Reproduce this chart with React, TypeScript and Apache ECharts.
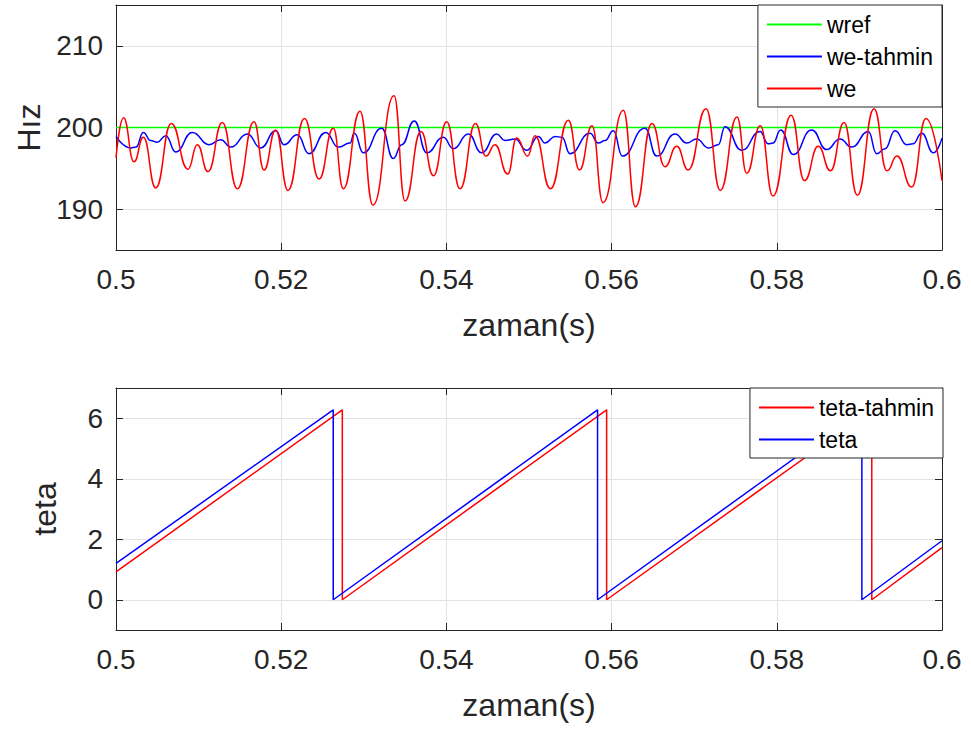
import React, { useEffect, useRef } from "react";
import * as echarts from "echarts";

// ---- top subplot data ----
const wrefTime = [0.5, 0.6];
const wrefValue = [200, 200];

const weTime = [
  0.5, 0.50091, 0.50218, 0.50331, 0.50481, 0.50669, 0.50872, 0.50984, 0.51114, 0.51287,
  0.51469, 0.51671, 0.51792, 0.51933, 0.52082, 0.52282, 0.52458, 0.52631, 0.52752, 0.52954,
  0.53111, 0.53366, 0.53499, 0.53692, 0.53844, 0.54003, 0.54165, 0.54352, 0.54479, 0.54588,
  0.54742, 0.54851, 0.54984, 0.55073, 0.5526, 0.55476, 0.55611, 0.55763, 0.55896, 0.56142,
  0.56289, 0.56489, 0.56646, 0.56788, 0.56928, 0.57143, 0.57316, 0.57518, 0.57636, 0.578,
  0.57954, 0.58174, 0.58335, 0.58502, 0.5865, 0.58814, 0.58975, 0.59177, 0.59334, 0.59455,
  0.59633, 0.59806, 0.6,
];
const weValue = [
  196.3, 201.2, 195.8, 198.8, 192.6, 200.5, 194.9, 197.9, 194.6, 200.6,
  192.5, 200.7, 194.8, 199.7, 192.3, 201.1, 193.7, 199.9, 192.5, 202.0,
  190.5, 203.9, 191.0, 199.5, 194.1, 200.7, 192.5, 200.5, 196.5, 197.9,
  194.3, 198.7, 196.5, 199.0, 192.5, 200.9, 194.8, 200.2, 190.8, 202.1,
  190.3, 200.5, 195.2, 197.7, 194.8, 202.3, 192.3, 201.3, 194.4, 200.2,
  191.6, 201.5, 193.5, 197.7, 194.7, 200.6, 191.7, 202.3, 194.7, 196.5,
  192.7, 201.1, 193.5,
];

const estTime = [
  0.5, 0.50178, 0.50242, 0.50331, 0.5042, 0.505, 0.50602, 0.50723, 0.50924, 0.51126,
  0.51268, 0.51389, 0.5159, 0.51752, 0.51933, 0.52034, 0.52195, 0.52337, 0.52539, 0.52691,
  0.52833, 0.52885, 0.52994, 0.53217, 0.53357, 0.53459, 0.53611, 0.53762, 0.53962, 0.54084,
  0.54265, 0.54427, 0.54609, 0.54709, 0.54831, 0.54972, 0.55113, 0.55194, 0.55315, 0.554,
  0.55496, 0.55738, 0.55839, 0.5592, 0.56021, 0.5613, 0.56404, 0.56546, 0.56768, 0.56909,
  0.5703, 0.57171, 0.57292, 0.57373, 0.57575, 0.57797, 0.57897, 0.57954, 0.58047, 0.582,
  0.58422, 0.58604, 0.58765, 0.58907, 0.59108, 0.59209, 0.5931, 0.59431, 0.59573, 0.59649,
  0.59754, 0.59895, 0.6,
];
const estValue = [
  198.9, 197.5, 197.6, 199.4, 198.4, 198.2, 199.0, 197.0, 199.4, 197.9,
  198.5, 197.6, 199.2, 197.5, 199.6, 197.9, 199.1, 196.8, 199.4, 197.6,
  198.1, 199.3, 196.9, 199.9, 196.2, 197.9, 200.8, 196.9, 198.8, 197.4,
  199.2, 196.9, 199.2, 198.4, 198.6, 197.2, 198.9, 198.1, 198.9, 198.8,
  196.8, 199.3, 198.1, 198.4, 199.6, 196.5, 199.9, 196.5, 199.2, 198.1,
  198.6, 197.5, 197.9, 200.1, 197.2, 199.5, 198.0, 198.1, 199.7, 196.7,
  199.7, 197.3, 198.6, 197.6, 199.5, 196.8, 197.4, 199.6, 197.9, 198.0,
  199.3, 196.9, 198.7,
];

// ---- bottom subplot data ----
const tetaEstTime = [0.5, 0.5274, 0.5274, 0.5594, 0.5594, 0.5915, 0.5915, 0.6];
const tetaEstValue = [0.92, 6.28, 0, 6.28, 0, 6.28, 0, 1.72];
const tetaTime = [0.5, 0.5263, 0.5263, 0.5583, 0.5583, 0.5903, 0.5903, 0.6];
const tetaValue = [1.2, 6.28, 0, 6.28, 0, 6.28, 0, 1.95];

const xMin = 0.5;
const xMax = 0.6;
const xStep = 0.02;
const topY = [185, 215];
const topYStep = 10;
const botY = [-1, 7];
const botYStep = 2;

const FONT = "'Liberation Sans', Arial, Helvetica, sans-serif";
const AX = "#262626";
const GRID = "#e3e3e3";

const pairs = (t: number[], v: number[]) => t.map((x, i) => [x, v[i]]);

function xAxisDef(gridIndex: number, mirror: boolean): any {
  return {
    type: "value",
    gridIndex,
    position: mirror ? "top" : "bottom",
    min: xMin,
    max: xMax,
    interval: xStep,
    name: mirror ? "" : "zaman(s)",
    nameLocation: "middle",
    nameGap: 59,
    nameTextStyle: { fontSize: 32, color: AX, fontFamily: FONT },
    axisLine: { show: true, onZero: false, lineStyle: { color: AX, width: 1 } },
    axisTick: { show: true, inside: true, length: 7, lineStyle: { color: AX } },
    axisLabel: {
      show: !mirror,
      fontSize: 28,
      color: AX,
      fontFamily: FONT,
      margin: 15,
      formatter: (v: number) => String(Math.round(v * 100) / 100),
    },
    splitLine: { show: !mirror, lineStyle: { color: GRID, width: 1 } },
  };
}

function yAxisDef(gridIndex: number, mirror: boolean, ext: number[], step: number, name: string, gap: number): any {
  return {
    type: "value",
    gridIndex,
    position: mirror ? "right" : "left",
    min: ext[0],
    max: ext[1],
    splitNumber: Math.round((ext[1] - ext[0]) / step),
    name: mirror ? "" : name,
    nameLocation: "middle",
    nameGap: gap,
    nameTextStyle: { fontSize: 32, color: AX, fontFamily: FONT },
    axisLine: { show: true, onZero: false, lineStyle: { color: AX, width: 1 } },
    axisTick: { show: true, inside: true, length: 7, lineStyle: { color: AX } },
    axisLabel: {
      show: !mirror,
      fontSize: 28,
      color: AX,
      fontFamily: FONT,
      margin: 13,
      formatter: (v: number) => (Math.abs(v % step) < 1e-9 ? String(v) : ""),
    },
    splitLine: { show: !mirror, lineStyle: { color: GRID, width: 1 } },
  };
}

const legendBase = {
  orient: "vertical",
  backgroundColor: "#ffffff",
  borderColor: AX,
  borderWidth: 1,
  borderRadius: 0,
  padding: [8, 9, 7, 9],
  itemGap: 9,
  itemWidth: 55,
  itemHeight: 2,
  icon: "rect",
  selectedMode: false,
  textStyle: { fontSize: 23, color: "#000", fontFamily: FONT },
};

export default function App() {
  const ref = useRef<HTMLDivElement>(null);

  useEffect(() => {
    if (!ref.current) return;
    const chart = echarts.init(ref.current, undefined, { renderer: "svg" });
    const line = (name: string, color: string, data: number[][], xi: number, yi: number, smooth = false) => ({
      name,
      type: "line",
      xAxisIndex: xi,
      yAxisIndex: yi,
      data,
      showSymbol: false,
      symbol: "none",
      smooth: smooth ? 0.5 : false,
      smoothMonotone: smooth ? "x" : undefined,
      lineStyle: { color, width: 1.5 },
      itemStyle: { color },
      emphasis: { disabled: true },
    });
    chart.setOption({
      animation: false,
      backgroundColor: "#ffffff",
      textStyle: { fontFamily: FONT },
      grid: [
        { left: 116, top: 5, width: 826, height: 245, containLabel: false },
        { left: 116, top: 388, width: 826, height: 242, containLabel: false },
      ],
      xAxis: [xAxisDef(0, false), xAxisDef(0, true), xAxisDef(1, false), xAxisDef(1, true)],
      yAxis: [
        yAxisDef(0, false, topY, topYStep, "Hız", 66),
        yAxisDef(0, true, topY, topYStep, "", 0),
        yAxisDef(1, false, botY, botYStep, "teta", 55),
        yAxisDef(1, true, botY, botYStep, "", 0),
      ],
      legend: [
        { ...legendBase, data: ["wref", "we-tahmin", "we"], right: 29, top: 5 },
        { ...legendBase, data: ["teta-tahmin", "teta"], right: 28, top: 388 },
      ],
      series: [
        line("wref", "#00ff00", pairs(wrefTime, wrefValue), 0, 0),
        line("we-tahmin", "#0000ff", pairs(estTime, estValue), 0, 0, true),
        line("we", "#ff0000", pairs(weTime, weValue), 0, 0, true),
        line("teta-tahmin", "#ff0000", pairs(tetaEstTime, tetaEstValue), 2, 2),
        line("teta", "#0000ff", pairs(tetaTime, tetaValue), 2, 2),
      ],
    });
    return () => chart.dispose();
  }, []);

  return (
    <div
      ref={ref}
      style={{ position: "fixed", left: 0, top: 0, width: 971, height: 733, background: "#fff" }}
    />
  );
}
